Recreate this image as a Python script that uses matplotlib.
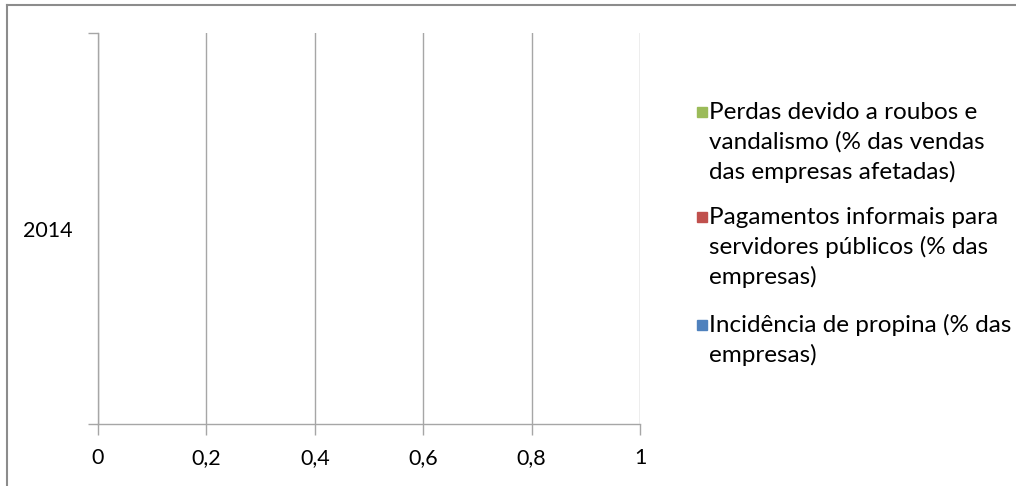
import matplotlib
matplotlib.use("Agg")
import matplotlib.pyplot as plt
from matplotlib.lines import Line2D
from matplotlib.patches import Rectangle
import numpy as np

plt.rcParams['font.family'] = ['Lato', 'DejaVu Sans']

# data (the source chart has no values drawn)
categories = ['2014']
series_names = [
    'Incidência de propina (% das\nempresas)',
    'Pagamentos informais para\nservidores públicos (% das\nempresas)',
    'Perdas devido a roubos e\nvandalismo (% das vendas\ndas empresas afetadas)',
]
series_values = [[0], [0], [0]]
series_colors = ['#4F81BD', '#C0504D', '#9BBB59']
x_ticks = [0, 0.2, 0.4, 0.6, 0.8, 1.0]
x_ticklabels = ['0', '0,2', '0,4', '0,6', '0,8', '1']

W, H = 1016, 486
grey = '#A6A6A6'

fig = plt.figure(figsize=(W / 100, H / 100), dpi=100)
ax = fig.add_axes([98 / W, 1 - 424 / H, (640 - 98) / W, (424 - 33) / H])

y = np.arange(len(categories))
bh = 0.2
for i, vals in enumerate(series_values):
    ax.barh(y + (i - 1) * bh, vals, height=bh, color=series_colors[i], linewidth=0)

ax.set_xlim(0, 1)
ax.set_ylim(-0.5, len(categories) - 0.5)
ax.set_xticks(x_ticks)
ax.set_xticklabels(x_ticklabels)
ax.set_yticks(np.arange(len(categories) + 1) - 0.5)
ax.set_yticklabels([])
ax.set_yticks(y, minor=True)
ax.set_yticklabels(categories, minor=True)

ax.grid(axis='x', color=grey, linewidth=1)
ax.set_axisbelow(True)
for s in ['top', 'right']:
    ax.spines[s].set_visible(False)
for s in ['left', 'bottom']:
    ax.spines[s].set_color(grey)
    ax.spines[s].set_linewidth(1)

ax.tick_params(axis='x', which='major', direction='out', length=8, width=1, color=grey,
               labelsize=15.5, pad=9)
ax.tick_params(axis='y', which='minor', length=0, labelsize=15.5, pad=18)
ax.tick_params(axis='y', which='major', direction='out', length=7, width=1, color=grey)

# legend drawn by hand so the square sits on the first line
leg_x = 697
first_line_y = [325, 217, 112]
line_step = 30
for i in range(len(series_names)):
    cy = first_line_y[i]
    fig.add_artist(Rectangle((leg_x / W, 1 - (cy + 5) / H), 10 / W, 10 / H,
                             transform=fig.transFigure, color=series_colors[i]))
    for k, line in enumerate(series_names[i].split('\n')):
        fig.text((leg_x + 12) / W, 1 - (cy + k * line_step) / H, line,
                 fontsize=17.5, va='center', ha='left')

# outer border (only top and left are visible)
fig.add_artist(Line2D([7 / W, 1], [1 - 5 / H, 1 - 5 / H], color='#8C8C8C', linewidth=1.5))
fig.add_artist(Line2D([7 / W, 7 / W], [0, 1 - 5 / H], color='#8C8C8C', linewidth=1.5))

fig.savefig('out.png', dpi=100)
